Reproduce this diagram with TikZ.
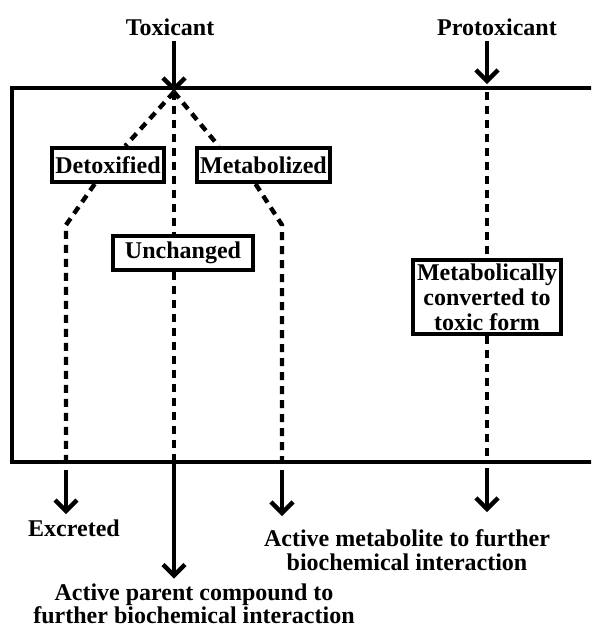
\documentclass[tikz,border=0pt]{standalone}
\usepackage{fontspec}
\setmainfont{Liberation Serif}
\usetikzlibrary{arrows.meta, positioning, calc}
\tikzstyle{stagebox} = [rectangle, draw=black, line width=2pt, fill=white, inner xsep=1.8pt, inner ysep=2pt, minimum height=17pt, align=center]
\tikzstyle{plaintext} = [inner sep=2.5pt, align=center]
\tikzstyle{arrow} = [line width=1.6pt, -{Straight Barb[length=5.5pt, width=11pt, line width=2.2pt]}]
\tikzstyle{dashline} = [line width=2.2pt, dash pattern=on 4pt off 3pt]
\tikzstyle{cell} = [line width=2.2pt]

\begin{document}
\begin{tikzpicture}[x=0.5pt, y=-0.5pt, font=\fontsize{12}{12}\selectfont\bfseries]
\useasboundingbox (0,0) rectangle (591,628);
\clip (0,0) rectangle (591,628);

% Cell
\coordinate (cellNW) at (12,88);
\coordinate (cellSE) at (640,462);
\draw [cell] (cellNW) rectangle (cellSE);

% Points
\coordinate (J) at (174,92);
\coordinate (P) at (487,92);
\coordinate (ld) at (66,225);
\coordinate (rd) at (282,225);

% Nodes
\node (tox) [plaintext] at (170,27) {Toxicant};
\node (prot) [plaintext] at (497,27) {Protoxicant};
\node (det) [stagebox] at (108,165) {Detoxified};
\node (met) [stagebox] at (263.5,165) {Metabolized};
\node (unch) [stagebox, minimum width=70pt] at (183,253) {Unchanged};
\node (conv) [stagebox, font=\fontsize{12}{12.5}\selectfont\bfseries] at (487,297) {Metabolically\\converted to\\toxic form};
\node (exc) [plaintext] at (74,528) {Excreted};
\node (parent) [plaintext, font=\fontsize{12}{11.5}\selectfont\bfseries] at (194,604) {Active parent compound to\\further biochemical interaction};
\node (meta) [plaintext] at (407,550) {Active metabolite to further\\biochemical interaction};

% Dashed routes
\draw [dashline] (J) -- (det);
\draw [dashline] (det) -- (ld) -- (ld |- cellSE);
\draw [dashline] (J) -- ($(met.north west)+(24,0)$);
\draw [dashline] ($(met.south west)+(61,0)$) -- (rd) -- (rd |- cellSE);
\draw [dashline] (J) -- (J |- unch.north);
\draw [dashline] (J |- unch.south) -- (J |- cellSE);
\draw [dashline] (P) -- (conv);
\draw [dashline] (conv) -- (P |- cellSE);

% Arrows
\draw [arrow] (tox.south -| J) -- (J);
\draw [arrow, shorten >=2pt] (prot.south -| P) -- (P |- cellNW);
\draw [arrow, shorten <=4pt] (ld |- cellSE) -- (ld |- exc.north);
\draw [arrow] (J |- cellSE) -- (J |- parent.north);
\draw [arrow, shorten <=4pt, shorten >=4pt] (rd |- cellSE) -- (rd |- meta.north);
\draw [arrow, shorten <=3pt, shorten >=6pt] (P |- cellSE) -- (P |- meta.north);

\end{tikzpicture}
\end{document}
